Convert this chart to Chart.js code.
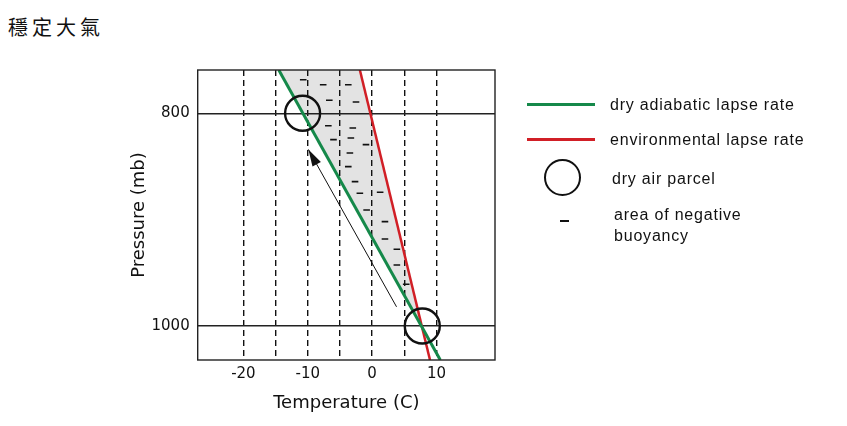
<!DOCTYPE html>
<html><head><meta charset="utf-8">
<script src="https://cdn.jsdelivr.net/npm/chart.js@4.4.1/dist/chart.umd.min.js"></script>
<style>
html,body{margin:0;padding:0;background:#fff;}
#wrap{position:relative;width:847px;height:426px;overflow:hidden;background:#fff;}
#c{position:absolute;left:0;top:0;}
#title{position:absolute;left:8px;top:12px;font-family:"Noto Sans CJK TC","Noto Sans CJK SC",sans-serif;font-size:20px;letter-spacing:4px;color:#111;white-space:nowrap;}
.t{position:absolute;white-space:nowrap;color:#111;font-family:"Liberation Sans",Arial,sans-serif;font-size:16px;letter-spacing:0.8px;line-height:20px;}
.sw{position:absolute;}
</style></head>
<body><div id="wrap">
<div id="title">穩定大氣</div>
<canvas id="c" width="847" height="426"></canvas>
<div class="sw" style="left:527px;top:102.8px;width:68px;height:3px;background:#15894a"></div>
<div class="t" style="left:610px;top:95px">dry adiabatic lapse rate</div>
<div class="sw" style="left:527px;top:137.5px;width:68px;height:3px;background:#d11f26"></div>
<div class="t" style="left:610px;top:129.5px">environmental lapse rate</div>
<div class="sw" style="left:544px;top:159px;width:37px;height:37px;box-sizing:border-box;border:2.4px solid #111;border-radius:50%"></div>
<div class="t" style="left:612px;top:168.5px">dry air parcel</div>
<div class="sw" style="left:560px;top:220px;width:9px;height:1.8px;background:#111"></div>
<div class="t" style="left:614px;top:205px">area of negative</div>
<div class="t" style="left:614px;top:226px">buoyancy</div>
</div>
<script>
// ---- data ----
const xGridValues = [-20, -15, -10, -5, 0, 5, 10];
const xTickLabels = ['-20', '', '-10', '', '0', '', '10'];
const yTickValues = [800, 1000];
const yTickLabels = ['800', '1000'];
const xTitle = 'Temperature (C)';
const yTitle = 'Pressure (mb)';

const dryAdiabatT = [-14.5, 10.6];
const dryAdiabatP = [759.3, 1032];
const envLapseT = [-1.9, 9.0];
const envLapseP = [759.3, 1032];

const parcelT = [-10.8, 7.8];
const parcelP = [800, 1000];

const arrowT = [3.8, -9.9];
const arrowP = [982, 834];

const dashT = [-10.7, -7.6, -3.7, -6.65, -2.5, -6.8, -3.0, -6.0, -3.3, -0.95, -3.45, -3.7, -2.65, -1.9, 1.25, -0.85, 2.0, 2.0, 3.85, 3.85, 5.3];
const dashP = [768.4, 773.1, 773.1, 787.8, 789.4, 811.7, 813.8, 824.8, 823.2, 829.5, 837.3, 850.2, 864.3, 875.2, 874.3, 890.9, 901.9, 918.2, 927.9, 942.6, 960.8];

// ---- build ----
const pts = (xs, ys) => xs.map((x, i) => ({x: x, y: ys[i]}));
// intersection of the two lapse-rate lines (shared pressure end points)
const tCross = (envLapseT[0] - dryAdiabatT[0]) / ((dryAdiabatT[1] - dryAdiabatT[0]) - (envLapseT[1] - envLapseT[0]));
const crossPt = {x: dryAdiabatT[0] + tCross * (dryAdiabatT[1] - dryAdiabatT[0]),
                 y: dryAdiabatP[0] + tCross * (dryAdiabatP[1] - dryAdiabatP[0])};
const shadePts = [{x: dryAdiabatT[0], y: dryAdiabatP[0]}, {x: envLapseT[0], y: envLapseP[0]}, crossPt];

const GREEN = '#15894a', RED = '#d11f26', INK = '#111';

const boxPlugin = {
  id: 'box',
  afterDatasetsDraw(chart) {
    const {ctx, scales} = chart;
    const xs = scales.x, ys = scales.y;
    // arrow head
    const sx = xs.getPixelForValue(arrowT[0]), sy = ys.getPixelForValue(arrowP[0]);
    const tx = xs.getPixelForValue(arrowT[1]), ty = ys.getPixelForValue(arrowP[1]);
    const len = Math.hypot(tx - sx, ty - sy), ux = (tx - sx) / len, uy = (ty - sy) / len;
    const bx = tx - ux * 17, by = ty - uy * 17, nx = -uy, ny = ux;
    ctx.save();
    ctx.fillStyle = INK;
    ctx.beginPath();
    ctx.moveTo(tx, ty);
    ctx.lineTo(bx + nx * 4.8, by + ny * 4.8);
    ctx.lineTo(bx - nx * 4.8, by - ny * 4.8);
    ctx.closePath();
    ctx.fill();
    ctx.restore();
  },
  afterDraw(chart) {
    const {ctx, chartArea: a} = chart;
    ctx.save();
    ctx.strokeStyle = '#222';
    ctx.lineWidth = 1.4;
    ctx.strokeRect(a.left, a.top, a.right - a.left, a.bottom - a.top);
    ctx.restore();
  }
};

new Chart(document.getElementById('c'), {
  type: 'scatter',
  data: {
    datasets: [
      {label: 'parcel', data: pts(parcelT, parcelP), pointRadius: 17.5, pointBorderWidth: 2.4,
       pointBorderColor: INK, pointBackgroundColor: 'rgba(0,0,0,0)', showLine: false},
      {label: 'dashes', data: pts(dashT, dashP), pointStyle: 'line', pointRadius: 3.3,
       pointBorderWidth: 1.6, pointBorderColor: INK, showLine: false},
      {label: 'arrow', data: pts(arrowT, arrowP), showLine: true, borderColor: INK, borderWidth: 1,
       pointRadius: 0},
      {label: 'dry adiabatic lapse rate', data: pts(dryAdiabatT, dryAdiabatP), showLine: true,
       borderColor: GREEN, borderWidth: 3, pointRadius: 0},
      {label: 'environmental lapse rate', data: pts(envLapseT, envLapseP), showLine: true,
       borderColor: RED, borderWidth: 2.5, pointRadius: 0},
      {label: 'shade', data: shadePts, showLine: true, fill: 'shape', backgroundColor: '#e3e3e3',
       borderWidth: 0, borderColor: 'rgba(0,0,0,0)', pointRadius: 0}
    ]
  },
  options: {
    responsive: false,
    animation: false,
    events: [],
    layout: {padding: {left: 125, right: 352, top: 70, bottom: 8.2}},
    plugins: {legend: {display: false}, tooltip: {enabled: false}, filler: {drawTime: 'beforeDraw'}},
    scales: {
      x: {
        type: 'linear', min: -27.1, max: 19.1,
        afterBuildTicks: s => { s.ticks = xGridValues.map(v => ({value: v})); },
        afterFit: s => { s.height = 57.8; },
        ticks: {autoSkip: false, padding: 5, color: INK, font: {family: 'DejaVu Sans', size: 15},
                callback: (v, i) => xTickLabels[i]},
        grid: {color: INK, lineWidth: 1.4, drawTicks: false},
        border: {display: false, dash: [6, 4]},
        title: {display: true, text: xTitle, color: INK, font: {family: 'DejaVu Sans', size: 18}}
      },
      y: {
        type: 'linear', reverse: true, min: 759.3, max: 1032,
        afterBuildTicks: s => { s.ticks = yTickValues.map(v => ({value: v})); },
        afterFit: s => { s.width = 72.7; },
        ticks: {autoSkip: false, padding: 8, color: INK, font: {family: 'DejaVu Sans', size: 15},
                callback: (v, i) => yTickLabels[i]},
        grid: {color: '#222', lineWidth: 1.4, drawTicks: false},
        border: {display: false},
        title: {display: true, text: yTitle, color: INK, font: {family: 'DejaVu Sans', size: 18}}
      }
    }
  },
  plugins: [boxPlugin]
});
</script>
</body></html>
